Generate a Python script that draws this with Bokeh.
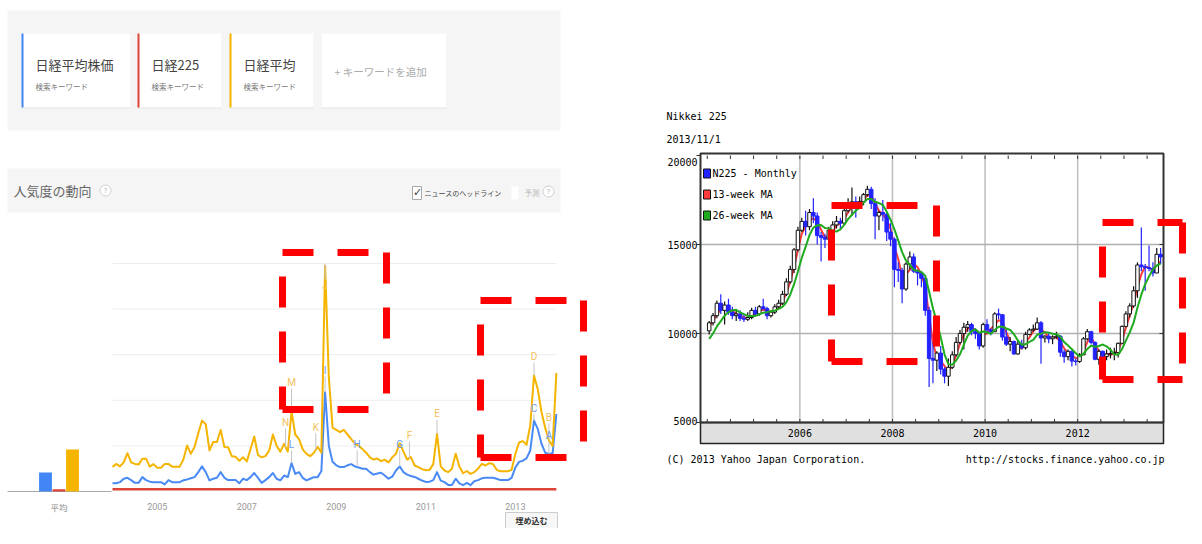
from bokeh.plotting import figure
from bokeh.models import Range1d, ColumnDataSource
from bokeh.embed import file_html
from bokeh.resources import INLINE
from bokeh.core.properties import value

# ---------------- data : Google Trends panel ----------------
keywords = ["日経平均株価", "日経225", "日経平均"]
keyword_colors = ["#4285f4", "#db4437", "#f4b400"]
keyword_sub = "検索キーワード"
avg_values = [8.3, 1.0, 18.4]          # 平均 bars

trend_blue = [3.6, 3.6, 4.1, 5.6, 6.0, 5.0, 3.8, 3.8, 6.3, 5.0, 4.3, 4.1,
              4.1, 4.1, 3.1, 5.0, 4.1, 4.1, 4.1, 4.9, 5.3, 5.8, 6.3, 8.5,
              11.0, 8.5, 4.9, 5.6, 6.0, 8.5, 6.0, 5.0, 5.0, 5.0, 3.6, 5.6,
              5.0, 6.3, 8.1, 6.0, 3.8, 5.0, 6.3, 8.1, 5.6, 4.9, 7.0, 6.3,
              12.5, 7.7, 8.5, 6.0, 4.9, 5.6, 6.3, 6.3, 9.0, 43.5, 20.0, 13.0,
              11.5, 10.7, 10.7, 11.5, 12.0, 11.0, 10.5, 10.0, 10.0, 8.5, 7.4, 7.9,
              8.2, 7.0, 5.6, 6.5, 9.2, 11.0, 8.5, 7.4, 6.8, 6.4, 5.6, 4.8,
              4.2, 4.3, 5.0, 8.5, 4.8, 4.1, 2.9, 2.8, 5.6, 3.6, 2.8, 3.8,
              2.8, 4.5, 5.0, 5.8, 6.0, 6.0, 6.0, 5.6, 5.0, 5.0, 5.0, 6.0,
              10.5, 13.0, 13.5, 14.5, 18.0, 31.1, 27.5, 21.0, 17.0, 16.5, 16.8, 34.0]
trend_yellow = [10.7, 12.1, 11.0, 12.8, 16.8, 12.8, 12.1, 11.8, 14.4, 14.4, 10.9, 12.0,
                10.4, 10.4, 12.1, 12.1, 10.9, 10.9, 10.9, 14.0, 20.2, 16.5, 19.5, 25.5,
                31.1, 29.5, 18.0, 21.7, 21.7, 27.0, 19.5, 19.4, 15.5, 15.2, 13.5, 15.0,
                13.2, 18.5, 24.1, 16.0, 15.0, 15.5, 17.9, 25.0, 20.0, 17.5, 20.9, 17.5,
                35.0, 25.0, 23.0, 18.5, 16.5, 15.5, 17.0, 19.6, 17.0, 99.0, 50.0, 28.0,
                27.0, 26.0, 27.0, 25.0, 23.0, 21.0, 20.0, 18.6, 17.0, 15.0, 14.0, 14.5,
                13.3, 13.9, 12.8, 15.0, 16.5, 21.2, 17.5, 14.0, 15.1, 11.4, 10.7, 9.8,
                9.3, 9.5, 12.0, 25.3, 11.0, 9.2, 8.5, 10.0, 16.6, 11.0, 8.0, 9.0,
                7.7, 8.5, 10.0, 12.1, 11.4, 12.4, 12.1, 9.5, 8.9, 8.9, 8.9, 9.5,
                16.5, 21.5, 22.1, 20.5, 29.0, 50.9, 45.0, 35.0, 28.0, 22.5, 20.0, 52.0]
trend_red = [1.0, 1.0, 1.0, 1.0, 1.0, 1.0, 1.0, 1.0, 1.0, 1.0, 1.0, 1.0,
             1.0, 1.0, 1.0, 1.0, 1.0, 1.0, 1.0, 1.0, 1.0, 1.0, 1.0, 1.0,
             1.0, 1.0, 1.0, 1.0, 1.0, 1.0, 1.0, 1.0, 1.0, 1.0, 1.0, 1.0,
             1.0, 1.0, 1.0, 1.0, 1.0, 1.0, 1.0, 1.0, 1.0, 1.0, 1.0, 1.0,
             1.0, 1.0, 1.0, 1.0, 1.0, 1.0, 1.0, 1.0, 1.0, 1.0, 1.0, 1.0,
             1.0, 1.0, 1.0, 1.0, 1.0, 1.0, 1.0, 1.0, 1.0, 1.0, 1.0, 1.0,
             1.0, 1.0, 1.0, 1.0, 1.0, 1.0, 1.0, 1.0, 1.0, 1.0, 1.0, 1.0,
             1.0, 1.0, 1.0, 1.0, 1.0, 1.0, 1.0, 1.0, 1.0, 1.0, 1.0, 1.0,
             1.0, 1.0, 1.0, 1.0, 1.0, 1.0, 1.0, 1.0, 1.0, 1.0, 1.0, 1.0,
             1.0, 1.0, 1.0, 1.0, 1.0, 1.0, 1.0, 1.0, 1.0, 1.0, 1.0, 1.0]
trend_start_year = 2004               # first month = Jan 2004
trend_tick_years = [2005, 2007, 2009, 2011, 2013]
trend_grid_values = [20, 40, 60, 80, 100]

ann_letters = ["N", "M", "L", "K", "J", "I", "H", "G", "F", "E", "D", "C", "B", "A"]
ann_month = [46.4, 48.0, 48.0, 54.5, 57.0, 57.0, 65.6, 77.0, 79.6, 87.0, 113.0, 113.0, 117.0, 117.0]
ann_series = ["y", "y", "b", "y", "y", "b", "b", "b", "y", "y", "y", "b", "y", "b"]
ann_label = [30.3, 47.8, 20.6, 28.1, 90.4, 53.1, 20.6, 20.6, 24.6, 34.0, 59.2, 36.6, 32.5, 24.6]
ann_base = [19.5, 35.0, 12.5, 18.5, 100.0, 43.5, 11.0, 11.0, 14.5, 25.3, 50.9, 31.1, 22.5, 16.5]

# ---------------- data : Nikkei 225 panel ----------------
nk_open = [10150, 10600, 11000, 11700, 11300, 11600, 11200, 11000, 11100, 10850, 10800, 10900,
           11300, 11100, 11500, 11400, 11000, 11200, 11500, 11700, 12200, 12900, 13600, 14700,
           15800, 16300, 16000, 16800, 16600, 15500, 15400, 15300, 15800, 16100, 16300, 16200,
           16900, 17300, 17400, 17300, 17400, 17800, 18100, 17300, 16600, 16800, 16700, 15700,
           15300, 13600, 13550, 12500, 13900, 14300, 13500, 13400, 13100, 11300, 8600, 8500,
           8900, 8000, 7600, 8100, 8800, 9500, 10000, 10350, 10500, 10100, 10000, 9300,
           10500, 10200, 10100, 11100, 11050, 9800, 9400, 9550, 8850, 9400, 9200, 9950,
           10200, 10250, 10600, 9750, 9850, 9700, 9800, 9850, 8950, 8700, 9000, 8450,
           8430, 8800, 9700, 10100, 9500, 8550, 9000, 8700, 8850, 8870, 8930, 9450,
           10400, 11100, 11550, 12400, 13850, 13750, 13700, 13650, 13400, 14450]
nk_high = [10700, 11150, 11850, 12200, 11800, 11950, 11500, 11300, 11300, 11100, 11200, 11450,
           11500, 11600, 11950, 11500, 11300, 11650, 11900, 12400, 13100, 13800, 14800, 16000,
           16500, 16900, 17000, 17600, 16800, 15700, 15600, 16000, 16300, 16600, 16500, 17100,
           17600, 18200, 17700, 17700, 17900, 18300, 18250, 17600, 16900, 17500, 16800, 16200,
           15400, 14000, 13700, 14000, 14600, 14500, 13600, 13500, 13200, 11500, 9500, 9000,
           9300, 8100, 8600, 9000, 9800, 10200, 10600, 10700, 10600, 10300, 10050, 10600,
           10800, 10300, 11200, 11400, 11100, 10200, 9800, 9600, 9600, 9650, 10100, 10300,
           10500, 10900, 10700, 9900, 10000, 9900, 10100, 9900, 9100, 9100, 9050, 8600,
           8900, 9800, 10250, 10150, 9550, 9100, 9050, 9100, 9200, 9200, 9500, 10450,
           11250, 11700, 12650, 14000, 15950, 13900, 14950, 14000, 14800, 14800]
nk_low = [9950, 10450, 10850, 11100, 10500, 11050, 10800, 10700, 10700, 10650, 10700, 10800,
          11000, 11000, 11300, 10800, 10900, 11100, 11400, 11600, 12100, 12800, 13400, 14600,
          15700, 15500, 15800, 16200, 15000, 14050, 14800, 15100, 15600, 15900, 15800, 16100,
          16800, 16600, 16500, 17000, 17200, 17700, 17000, 15300, 15800, 16300, 15200, 14900,
          12600, 12900, 11700, 12400, 13600, 13400, 12700, 12600, 11000, 7000, 7200, 7900,
          7700, 7200, 7050, 8000, 8700, 9400, 9100, 10100, 9900, 9700, 9100, 9200,
          10000, 9900, 10100, 10800, 9600, 9300, 9000, 8800, 8800, 9100, 9100, 9900,
          10100, 10200, 8300, 9500, 9450, 9400, 9700, 8700, 8350, 8500, 8150, 8200,
          8350, 8800, 9600, 9400, 8500, 8250, 8400, 8500, 8600, 8500, 8650, 9400,
          10350, 10900, 11450, 12000, 13500, 12400, 13500, 13200, 13400, 13900]
nk_close = [10600, 11000, 11700, 11300, 11600, 11200, 11000, 11100, 10850, 10800, 10900, 11300,
            11100, 11500, 11400, 11000, 11200, 11500, 11700, 12200, 12900, 13600, 14700, 15800,
            16300, 16000, 16800, 16600, 15500, 15400, 15300, 15800, 16100, 16300, 16200, 16900,
            17300, 17400, 17300, 17400, 17800, 18100, 17300, 16600, 16800, 16700, 15700, 15300,
            13600, 13550, 12500, 13900, 14300, 13500, 13400, 13100, 11300, 8600, 8500, 8900,
            8000, 7600, 8100, 8800, 9500, 10000, 10350, 10500, 10100, 10000, 9300, 10500,
            10200, 10100, 11100, 11050, 9800, 9400, 9550, 8850, 9400, 9200, 9950, 10200,
            10250, 10600, 9750, 9850, 9700, 9800, 9850, 8950, 8700, 9000, 8450, 8430,
            8800, 9700, 10100, 9500, 8550, 9000, 8700, 8850, 8870, 8930, 9450, 10400,
            11100, 11550, 12400, 13850, 13750, 13700, 13650, 13400, 14450, 14300]
nk_ma13 = [10400, 10700, 11100, 11330, 11530, 11370, 11270, 11100, 10980, 10920, 10850, 11000,
           11100, 11300, 11330, 11300, 11200, 11230, 11470, 11800, 12270, 12900, 13730, 14700,
           15600, 16030, 16370, 16470, 16300, 15830, 15400, 15500, 15730, 16070, 16200, 16470,
           16800, 17200, 17330, 17370, 17500, 17770, 17730, 17330, 16900, 16700, 16400, 15900,
           14870, 14170, 13230, 13330, 13570, 13900, 13730, 13330, 12600, 11000, 9470, 8670,
           8470, 8170, 7900, 8170, 8800, 9430, 9950, 10280, 10320, 10200, 9800, 9930,
           10000, 10270, 10470, 10750, 10650, 10080, 9580, 9270, 9270, 9150, 9520, 9780,
           10130, 10350, 10200, 10070, 9770, 9780, 9780, 9530, 9170, 8880, 8720, 8630,
           8570, 8980, 9530, 9770, 9380, 9020, 8750, 8850, 8810, 8880, 9080, 9590,
           10320, 11020, 11680, 12600, 13330, 13770, 13700, 13580, 13830, 14050]
nk_ma26 = [9700, 10000, 10400, 10700, 11000, 11200, 11300, 11330, 11180, 11090, 10980, 10990,
           10990, 11080, 11170, 11200, 11250, 11280, 11380, 11500, 11750, 12180, 12770, 13480,
           14250, 14880, 15530, 15950, 16080, 16100, 15930, 15900, 15780, 15730, 15850, 16100,
           16430, 16670, 16900, 17080, 17350, 17550, 17550, 17400, 17330, 17220, 16850, 16400,
           15850, 15230, 14570, 14100, 13870, 13570, 13530, 13450, 13250, 12350, 11400, 10650,
           9800, 8820, 8280, 8250, 8480, 8830, 9380, 9880, 10130, 10240, 10040, 10110,
           10070, 9980, 10200, 10380, 10380, 10280, 10200, 9960, 9610, 9370, 9400, 9530,
           9640, 9930, 9990, 10070, 10050, 9990, 9960, 9820, 9520, 9330, 9120, 8890,
           8720, 8850, 9130, 9320, 9260, 9300, 9380, 9280, 9090, 8820, 8800, 9130,
           9600, 10060, 10610, 11460, 12180, 12770, 13210, 13600, 13820, 13930]
nk_start_year = 2004                  # first candle = Jan 2004
nk_year_ticks = [2006, 2008, 2010, 2012]
nk_price_ticks = [5000, 10000, 15000, 20000]
nk_grid_prices = [10000, 15000]
nk_half_year_ticks = [2004.0, 2004.5, 2005.0, 2005.5, 2006.0, 2006.5, 2007.0, 2007.5, 2008.0, 2008.5,
                      2009.0, 2009.5, 2010.0, 2010.5, 2011.0, 2011.5, 2012.0, 2012.5, 2013.0, 2013.5]
nk_legend = ["N225 - Monthly", "13-week MA", "26-week MA"]
nk_legend_colors = ["#2323ff", "#ff3b3b", "#1faa1f"]

# ---------------- layout (page pixel geometry) ----------------
W, H = 1186, 528
PX0, PY0 = 0, 0
# trends chart: year 2004.0 at px 112, 44.76 px / year ; value 0 at py 491, 2.28 px / unit
T_X0, T_PXY, T_Y0, T_PXV = 112.0, 44.76, 491.0, 2.28
# avg bars: index 0 at px 45, 13.5 px per bar
B_X0, B_STEP = 45.0, 13.5
# nikkei chart: year 2003.854 at px 700, 46.3 px/yr ; price 5000 at py 422, 89 px / 5000
N_YEAR0, N_X0, N_PXY, N_Y0, N_PXP = 2003.854, 700.0, 46.3, 422.0, 89.0 / 5000.0
N_YEAR1 = N_YEAR0 + 463.0 / N_PXY
N_PMIN, N_PMAX = 5000, 20000


def t_year(px): return trend_start_year + (px - T_X0) / T_PXY
def t_val(py): return (T_Y0 - py) / T_PXV
def b_idx(px): return (px - B_X0) / B_STEP
def n_year(px): return N_YEAR0 + (px - N_X0) / N_PXY
def n_price(py): return 5000 + (N_Y0 - py) / N_PXP


p = figure(width=W, height=H, output_backend="svg", toolbar_location=None,
           x_range=Range1d(PX0, PX0 + W), y_range=Range1d(PY0 + H, PY0),
           x_axis_location=None, y_axis_location=None, min_border=0)
p.grid.visible = False
p.outline_line_color = None
p.background_fill_color = "white"
p.border_fill_color = "white"
p.extra_x_ranges = {"tx": Range1d(t_year(PX0), t_year(PX0 + W)),
                    "bx": Range1d(b_idx(PX0), b_idx(PX0 + W)),
                    "nx": Range1d(n_year(PX0), n_year(PX0 + W))}
p.extra_y_ranges = {"ty": Range1d(t_val(PY0 + H), t_val(PY0)),
                    "ny": Range1d(n_price(PY0 + H), n_price(PY0))}

JP = value("Noto Sans CJK JP")
MONO = value("DejaVu Sans Mono")
SANS = value("Roboto")

# ---------------- header cards ----------------
p.quad(left=[7, 7], right=[560, 560], top=[10, 168], bottom=[130, 212],
       fill_color="#f5f5f5", line_color=None)
card_l = [21, 137, 229, 321]
card_r = [130, 221, 313, 446]
p.quad(left=card_l, right=card_r, top=[34] * 4, bottom=[108] * 4, fill_color="#e4e4e4", line_color=None)
p.quad(left=card_l, right=card_r, top=[33] * 4, bottom=[107] * 4, fill_color="white", line_color=None)
p.quad(left=card_l[:3], right=[c + 2 for c in card_l[:3]], top=[33] * 3, bottom=[107] * 3,
       fill_color=keyword_colors, line_color=None)
p.text(x=[c + 14 for c in card_l[:3]], y=[64] * 3, text=keywords, text_font=JP,
       text_font_size="13px", text_color="#444", text_baseline="middle", text_align="left")
p.text(x=[c + 14 for c in card_l[:3]], y=[86] * 3, text=[keyword_sub] * 3, text_font=JP,
       text_font_size="7.5px", text_color="#777", text_baseline="middle", text_align="left")
p.text(x=[334], y=[71], text=["+ キーワードを追加"], text_font=JP, text_font_size="10.5px",
       text_color="#aaa", text_baseline="middle", text_align="left")

# second bar
p.text(x=[13], y=[190], text=["人気度の動向"], text_font=JP, text_font_size="13px",
       text_color="#666", text_baseline="middle", text_align="left")
p.scatter(x=[105, 548], y=[190, 191], size=11, marker="circle", fill_color="white",
          line_color="#cfcfcf", line_width=1)
p.text(x=[105, 548], y=[190, 191], text=["?", "?"], text_font=SANS, text_font_size="8px",
       text_color="#bbb", text_baseline="middle", text_align="center")
p.quad(left=[412], right=[421], top=[186], bottom=[199], fill_color="white", line_color="#aaa")
p.text(x=[417], y=[192], text=["✓"], text_font=value("DejaVu Sans"), text_font_size="11px",
       text_color="#444", text_baseline="middle", text_align="center")
p.text(x=[424], y=[192], text=["ニュースのヘッドライン"], text_font=JP, text_font_size="7px",
       text_color="#444", text_baseline="middle", text_align="left")
p.quad(left=[511], right=[518], top=[186], bottom=[199], fill_color="white", line_color=None)
p.text(x=[524], y=[192], text=["予測"], text_font=JP, text_font_size="7.5px",
       text_color="#bbb", text_baseline="middle", text_align="left")

# ---------------- trends chart ----------------
tx = [trend_start_year + m / 12 for m in range(len(trend_blue))]
p.segment(x0=[tx[0]] * len(trend_grid_values), x1=[tx[-1]] * len(trend_grid_values),
          y0=trend_grid_values, y1=trend_grid_values, line_color="#ededed", line_width=1,
          x_range_name="tx", y_range_name="ty")
p.segment(x0=[b_idx(PX0 + 7)], x1=[b_idx(T_X0 - 1)], y0=[0], y1=[0], line_color="#aaaaaa",
          line_width=1, x_range_name="bx", y_range_name="ty")
p.vbar(x=[0, 1, 2], top=avg_values, bottom=0, width=0.95, fill_color=keyword_colors,
       line_color=None, x_range_name="bx", y_range_name="ty")
p.text(x=[1], y=[t_val(506)], text=["平均"], text_font=JP, text_font_size="8.5px",
       text_color="#888", text_baseline="middle", text_align="center",
       x_range_name="bx", y_range_name="ty")

p.line(tx, trend_red, line_color="#db4437", line_width=2.5, x_range_name="tx", y_range_name="ty")
p.line(tx, trend_blue, line_color="#4a8af4", line_width=2, line_join="round",
       x_range_name="tx", y_range_name="ty")
p.line(tx, trend_yellow, line_color="#f4b400", line_width=2, line_join="round",
       x_range_name="tx", y_range_name="ty")

ann_x = [trend_start_year + m / 12 for m in ann_month]
ann_edge = [lab - 2.6 if base < lab else lab + 2.6 for lab, base in zip(ann_label, ann_base)]
p.segment(x0=ann_x, x1=ann_x, y0=ann_base, y1=ann_edge, line_color="#c4c4c4", line_width=1,
          x_range_name="tx", y_range_name="ty")
ann_colors = ["#f4c060" if s == "y" else "#6a9cf6" for s in ann_series]
p.text(x=ann_x, y=ann_label, text=ann_letters, text_font=SANS, text_font_size="10px",
       text_color=ann_colors, text_baseline="middle", text_align="center",
       x_range_name="tx", y_range_name="ty")
p.text(x=trend_tick_years, y=[t_val(506)] * len(trend_tick_years),
       text=[str(y) for y in trend_tick_years], text_font=SANS, text_font_size="9px",
       text_color="#999", text_baseline="middle", text_align="center",
       x_range_name="tx", y_range_name="ty")

p.quad(left=[505], right=[557], top=[512], bottom=[528], fill_color="#f7f7f7", line_color="#cccccc")
p.text(x=[531], y=[520], text=["埋め込む"], text_font=JP, text_font_size="8px",
       text_font_style="bold", text_color="#333", text_baseline="middle", text_align="center")

# ---------------- Nikkei chart ----------------
p.text(x=[666, 666], y=[116, 139], text=["Nikkei 225", "2013/11/1"], text_font=MONO,
       text_font_size="10px", text_color="black", text_baseline="middle", text_align="left")
band_bottom = n_price(443)
p.quad(left=[N_YEAR0], right=[N_YEAR1], top=[N_PMIN], bottom=[band_bottom],
       fill_color="#e0e0e0", line_color="#222", line_width=1.5, x_range_name="nx", y_range_name="ny")
p.segment(x0=nk_year_ticks, x1=nk_year_ticks, y0=[N_PMIN] * 4, y1=[N_PMAX] * 4,
          line_color="#bdbdbd", line_width=1.5, x_range_name="nx", y_range_name="ny")
p.segment(x0=[N_YEAR0] * 2, x1=[N_YEAR1] * 2, y0=nk_grid_prices, y1=nk_grid_prices,
          line_color="#b0b0b0", line_width=1.5, x_range_name="nx", y_range_name="ny")
tick_len = 3.5 / N_PXP
p.segment(x0=nk_half_year_ticks, x1=nk_half_year_ticks, y0=[N_PMAX] * 20,
          y1=[N_PMAX - tick_len] * 20, line_color="#333", line_width=1, x_range_name="nx", y_range_name="ny")
p.segment(x0=nk_half_year_ticks, x1=nk_half_year_ticks, y0=[N_PMIN] * 20,
          y1=[N_PMIN + tick_len] * 20, line_color="#333", line_width=1, x_range_name="nx", y_range_name="ny")
p.segment(x0=[N_YEAR0] * 4, x1=[N_YEAR0 - 4 / N_PXY] * 4, y0=nk_price_ticks, y1=nk_price_ticks,
          line_color="#333", line_width=1, x_range_name="nx", y_range_name="ny")
p.segment(x0=[N_YEAR1] * 2, x1=[N_YEAR1 - 4 / N_PXY] * 2, y0=nk_grid_prices, y1=nk_grid_prices,
          line_color="#333", line_width=1, x_range_name="nx", y_range_name="ny")

cx = [nk_start_year + (m + 0.5) / 12 for m in range(len(nk_close))]
p.line(cx, nk_ma13, line_color="#ff3b3b", line_width=2, x_range_name="nx", y_range_name="ny")
up = [c >= o for o, c in zip(nk_open, nk_close)]
candle = ColumnDataSource(dict(
    x=cx, high=nk_high, low=nk_low,
    top=[max(o, c) for o, c in zip(nk_open, nk_close)],
    bottom=[min(o, c) for o, c in zip(nk_open, nk_close)],
    fill=["white" if u else "#2323ff" for u in up],
    line=["#111" if u else "#2323ff" for u in up]))
p.segment(x0="x", x1="x", y0="high", y1="low", line_color="line", line_width=1.2,
          source=candle, x_range_name="nx", y_range_name="ny")
p.vbar(x="x", top="top", bottom="bottom", width=0.9 / 12, fill_color="fill", line_color="line",
       line_width=1, source=candle, x_range_name="nx", y_range_name="ny")
p.line(cx, nk_ma26, line_color="#1faa1f", line_width=2, x_range_name="nx", y_range_name="ny")

p.quad(left=[N_YEAR0], right=[N_YEAR1], top=[N_PMAX + 2 / N_PXP], bottom=[N_PMIN],
       fill_color=None, line_color="#333", line_width=2, x_range_name="nx", y_range_name="ny")
lab_src = ColumnDataSource(dict(x=[N_YEAR0 - 3 / N_PXY] * 4, y=nk_price_ticks,
                                t=[str(v) for v in nk_price_ticks], off=[-2, 0, 0, 6]))
p.text(x="x", y="y", text="t", y_offset="off", source=lab_src, text_font=MONO,
       text_font_size="10px", text_color="black", text_baseline="middle", text_align="right",
       x_range_name="nx", y_range_name="ny")
p.text(x=nk_year_ticks, y=[(N_PMIN + band_bottom) / 2] * 4, text=[str(y) for y in nk_year_ticks],
       text_font=MONO, text_font_size="10px", text_color="black", text_baseline="middle",
       text_align="center", x_range_name="nx", y_range_name="ny")

# legend
leg_y = [173, 194, 215]
p.quad(left=[703] * 3, right=[710] * 3, top=[y - 4.5 for y in leg_y], bottom=[y + 4.5 for y in leg_y],
       fill_color=nk_legend_colors, line_color="#111", line_width=1)
p.text(x=[712] * 3, y=leg_y, text=nk_legend, text_font=MONO, text_font_size="10px",
       text_color="black", text_baseline="middle", text_align="left")

p.text(x=[666], y=[459], text=["(C) 2013 Yahoo Japan Corporation."], text_font=MONO,
       text_font_size="10px", text_color="black", text_baseline="middle", text_align="left")
p.text(x=[1164], y=[459], text=["http://stocks.finance.yahoo.co.jp"], text_font=MONO,
       text_font_size="10px", text_color="black", text_baseline="middle", text_align="right")

# ---------------- red dashed highlight boxes ----------------
boxes = [(282, 386, 252, 409), (480, 583, 300, 457), (831, 936, 205, 361), (1102, 1182, 222, 379)]
sx0, sy0, sx1, sy1 = [], [], [], []
for L, R, T, B in boxes:
    sx0 += [L, R, L]; sy0 += [T, T, B]; sx1 += [R, R, R]; sy1 += [T, B, B]
p.segment(x0=sx0, y0=sy0, x1=sx1, y1=sy1, line_color="#ff0000", line_width=7,
          line_dash="31 24")
p.segment(x0=[b[0] for b in boxes], y0=[b[2] for b in boxes], x1=[b[0] for b in boxes],
          y1=[b[3] for b in boxes], line_color="#ff0000", line_width=7,
          line_dash="31 24", line_dash_offset=31)

open("out.html", "w").write(file_html(p, INLINE))
